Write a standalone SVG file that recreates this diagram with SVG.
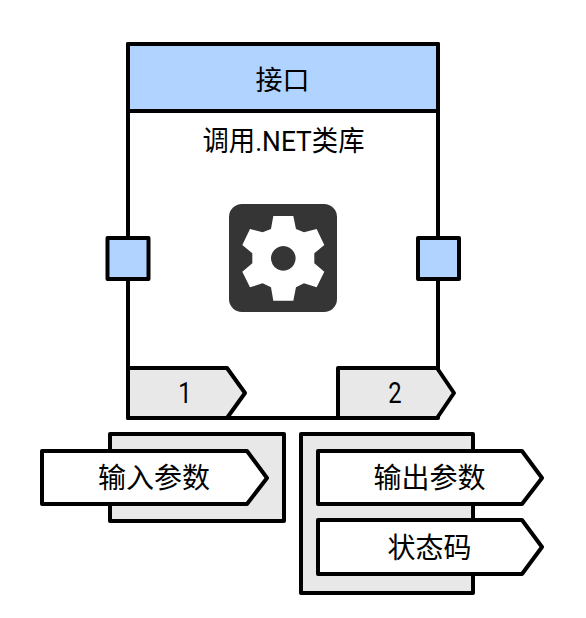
<svg xmlns="http://www.w3.org/2000/svg" width="586" height="618" viewBox="0 0 586 618">
<style>
.s{stroke:#000;stroke-width:4;stroke-linejoin:round}
.g{fill:#e8e8e8}
.b{fill:#b0d3ff}
.w{fill:#fff}
text{font-family:"Roboto","Noto Sans CJK SC",sans-serif;font-size:28px;fill:#000;text-anchor:middle}
.t{font-size:27px}
</style>
<rect width="586" height="618" fill="#fff"/>
<g id="interface">
<rect class="s w" x="128" y="44" width="310" height="374"/>
<rect class="s b" x="128" y="44" width="310" height="67"/>
<text class="t" x="282.500" y="90">接口</text>
<text x="283.500" y="151" textLength="162" lengthAdjust="spacingAndGlyphs">调用.NET类库</text>
</g>
<g id="gear">
<rect x="229" y="204" width="108" height="108" rx="13" fill="#353535"/>
<path fill="#fff" fill-rule="evenodd" transform="translate(90 30) scale(.3333)" d="M550 558H610L618 597L642 607L680 597L703 645L673 670V700L703 725L680 772L642 760L618 772L610 812H550L543 772L518 760L480 772L457 725L487 700V670L457 645L480 597L518 607L543 597ZM580 648a37 37 0 1 0 .01 0Z"/>
</g>
<g id="port-left"><rect class="s b" x="107.500" y="238" width="41" height="41"/></g>
<g id="port-right"><rect class="s b" x="418" y="238" width="41" height="41"/></g>
<g id="tag-1"><path class="s g" d="M128 368H227L245 393L227 418H128Z"/><text transform="translate(185 403) scale(.85 1.05)">1</text></g>
<g id="tag-2"><path class="s g" d="M338 368H437L454 393L437 418H338Z"/><text transform="translate(395 403) scale(.85 1.05)">2</text></g>
<g id="input-group"><rect class="s g" x="110" y="434" width="174" height="87"/>
<path class="s w" d="M42 451H247L267 478L247 504H42Z"/><text x="154" y="488">输入参数</text></g>
<g id="output-group"><rect class="s g" x="301" y="434" width="172" height="159"/>
<path class="s w" d="M318 451H522L542 478L522 504H318Z"/><text x="429.500" y="488">输出参数</text>
<path class="s w" d="M318 520H522L542 547L522 574H318Z"/><text x="429.500" y="558">状态码</text></g>
<g id="connectors"></g>
</svg>
